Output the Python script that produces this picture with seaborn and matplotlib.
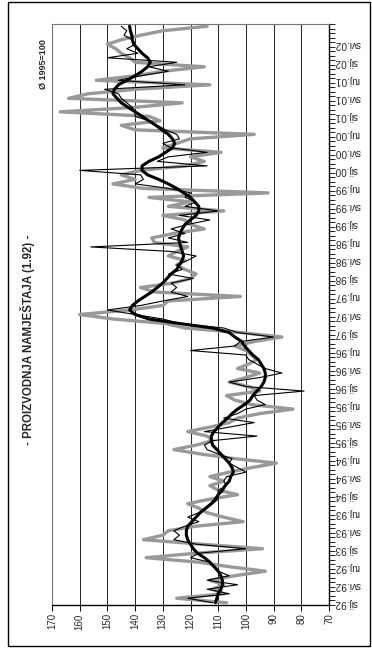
import matplotlib
matplotlib.use("Agg")
import matplotlib.pyplot as plt
import seaborn as sns
import numpy as np
import pandas as pd
from matplotlib.patches import Rectangle

sns.set_theme(style="white")
plt.rcParams['font.family'] = ['Liberation Sans', 'DejaVu Sans']

# Monthly index of furniture production, Jan 1992 onwards (1995 = 100)
ORIGINAL = [107, 125, 108, 112, 108, 113, 104, 93, 106, 117,
            136, 118, 94, 116, 137, 130, 128, 118, 101, 108,
            114, 117, 121, 113, 103, 110, 113, 108, 113, 106,
            98, 89, 104, 116, 126, 118, 112, 114, 121, 113,
            106, 103, 95, 83, 98, 104, 107, 95, 99, 106,
            100, 95, 103, 99, 96, 98, 100, 104, 97, 87,
            102, 122, 129, 148, 160, 142, 130, 128, 102, 133,
            138, 126, 120, 118, 122, 125, 122, 128, 125, 121,
            133, 134, 126, 115, 120, 122, 130, 108, 128, 120,
            135, 92, 137, 148, 140, 145, 138, 122, 115, 120,
            109, 130, 125, 120, 97, 140, 145, 131, 135, 167,
            140, 123, 164, 157, 140, 113, 154, 140, 130, 115,
            140, 142, 145, 147, 150, 145, 138, 130, 114]

SEAS_ADJ = [112, 121, 106, 114, 103, 114, 106, 110, 111, 113,
            120, 117, 100, 118, 126, 124, 126, 122, 117, 121,
            117, 114, 112, 110, 110, 110, 107, 108, 107, 100,
            103, 106, 105, 110, 114, 115, 112, 96, 115, 106,
            97, 108, 103, 100, 93, 96, 97, 79, 100, 106,
            95, 87, 93, 96, 99, 100, 120, 104, 102, 90,
            103, 108, 124, 130, 140, 150, 138, 130, 121, 127,
            125, 127, 119, 128, 123, 125, 121, 118, 127, 156,
            121, 128, 122, 127, 121, 113, 124, 110, 122, 118,
            122, 120, 128, 140, 137, 138, 160, 114, 132, 128,
            114, 127, 130, 124, 125, 129, 132, 135, 140, 140,
            141, 143, 145, 146, 151, 122, 146, 138, 128, 135,
            125, 150, 139, 143, 140, 141, 144, 143, 145]

TREND = [111, 110.5, 110, 109, 108.5, 108.5, 109, 110, 111.5, 113,
         115, 117.5, 119, 120, 121, 121.5, 121.5, 121, 119.5, 118,
         116.5, 114.5, 112.5, 111, 110, 108.5, 107.5, 106, 105.5, 104.5,
         105, 106, 107.5, 109, 110.5, 112, 112.5, 112.5, 111.5, 110,
         108.5, 106.5, 105, 103, 100.5, 98.5, 97.5, 96, 94.5, 93.5,
         93, 93, 93.5, 94.5, 95.5, 97.5, 99, 100.5, 101.5, 104,
         106, 112, 124, 135, 140, 142, 141, 139, 136.5, 134,
         132, 130, 128.5, 127, 125, 124, 123, 122.5, 123, 123.5,
         124, 124.3, 123.8, 123, 122, 120, 118, 117, 117, 118.5,
         120, 122.5, 125, 128, 131.5, 135.5, 137.5, 137.5, 135, 131.5,
         129, 126.5, 125.7, 126.5, 128, 130.3, 132.5, 135, 137.5, 140,
         142.5, 145, 146.5, 148, 147.5, 146, 143, 140, 137.5, 135.5,
         134.5, 135.5, 137.5, 139, 140.5, 141, 141.2, 141.7, 142]

TICK_LABELS = ['sij.92', 'svi.92', 'ruj.92', 'sij.93', 'svi.93', 'ruj.93',
               'sij.94', 'svi.94', 'ruj.94', 'sij.95', 'svi.95', 'ruj.95',
               'sij.96', 'svi.96', 'ruj.96', 'sij.97', 'svi.97', 'ruj.97',
               'sij.98', 'svi.98', 'ruj.98', 'sij.99', 'svi.99', 'ruj.99',
               'sij.00', 'svi.00', 'ruj.00', 'sij.01', 'svi.01', 'ruj.01',
               'sij.02', 'svi.02']
VALUE_TICKS = [70, 80, 90, 100, 110, 120, 130, 140, 150, 160, 170]

TITLE = '- PROIZVODNJA NAMJEŠTAJA (1.92) -'
NOTE = 'Ø 1995=100'

n = len(ORIGINAL)
month = np.arange(n)
df = pd.DataFrame({'month': month, 'original': ORIGINAL,
                   'sa': SEAS_ADJ, 'trend': TREND})

W, H = 372, 648
fig = plt.figure(figsize=(W / 100, H / 100), dpi=100)
fig.patch.set_facecolor('white')

# outer frame
fig.patches.append(Rectangle((8 / W, 1 - 646 / H), 362 / W, 644 / H,
                             transform=fig.transFigure, fill=False,
                             edgecolor='black', linewidth=1.0))

ax = fig.add_axes([52 / W, 1 - 605 / H, (329 - 52) / W, (605 - 24) / H])
ax.set_facecolor('white')

# the chart is laid on its side: time runs bottom -> top, values right -> left
sns.lineplot(data=df, x='original', y='month', orient='y', sort=False,
             color='#999999', linewidth=2.4, ax=ax, zorder=3)
sns.lineplot(data=df, x='sa', y='month', orient='y', sort=False,
             color='black', linewidth=0.8, ax=ax, zorder=4)
sns.lineplot(data=df, x='trend', y='month', orient='y', sort=False,
             color='black', linewidth=2.2, ax=ax, zorder=5)

ax.set_xlim(170, 70)
ax.set_ylim(-0.5, n - 0.5)
ax.set_xticks(VALUE_TICKS)
ax.set_xticklabels([str(v) for v in VALUE_TICKS], rotation=90, fontsize=7)
for v in VALUE_TICKS:
    ax.axvline(v, color='#222222', linewidth=0.7, zorder=1)

label_pos = np.arange(0, 4 * len(TICK_LABELS), 4)
ax.yaxis.tick_right()
ax.set_yticks(label_pos)
ax.set_yticklabels(TICK_LABELS, rotation=180, fontsize=7.2, va='center')
ax.set_yticks(np.arange(-0.5, n, 1), minor=True)
ax.tick_params(axis='y', which='major', length=0, pad=4)
ax.tick_params(axis='y', which='minor', length=4, width=0.6, color='black',
               right=True, left=False, direction='out')
ax.tick_params(axis='x', which='major', length=4, width=0.7, color='black',
               bottom=True, direction='out', pad=2)
ax.set_xlabel('')
ax.set_ylabel('')

for side in ['left', 'top']:
    ax.spines[side].set_color('#777777')
    ax.spines[side].set_linewidth(0.8)
for side in ['right', 'bottom']:
    ax.spines[side].set_color('black')
    ax.spines[side].set_linewidth(1.0)

fig.text(28 / W, 1 - 340 / H, TITLE, rotation=90, fontsize=8.3,
         fontweight='bold', ha='center', va='center')
fig.text(43 / W, 1 - 64 / H, NOTE, rotation=90, fontsize=6.5,
         fontweight='bold', ha='center', va='center')

fig.savefig('out.png', dpi=100, facecolor='white')
